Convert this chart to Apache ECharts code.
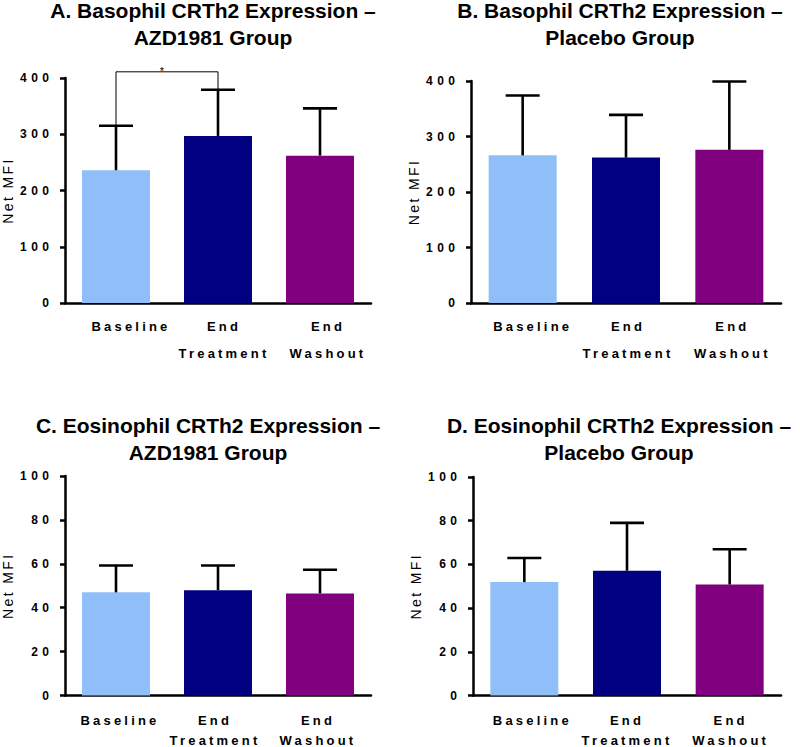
<!DOCTYPE html>
<html><head><meta charset="utf-8">
<script src="https://cdn.jsdelivr.net/npm/echarts@6/dist/echarts.min.js"></script>
<style>
html,body{margin:0;padding:0;background:#fff}
#c{width:800px;height:747px}
#c text[style*="13px"]{letter-spacing:3.2px}
#c text[style*="12px"]{letter-spacing:4.5px}
#c text[style*="14px"]{letter-spacing:2.4px}
</style></head><body><div id="c"></div><script>
// ---- data ----
const categories = ['Baseline', 'End\nTreatment', 'End\nWashout'];
const titles = [
  'A. Basophil CRTh2 Expression –\nAZD1981 Group',
  'B. Basophil CRTh2 Expression –\nPlacebo Group',
  'C. Eosinophil CRTh2 Expression –\nAZD1981 Group',
  'D. Eosinophil CRTh2 Expression –\nPlacebo Group'
];
const yAxisName = 'Net MFI';
const basoAzdMean = [236, 297, 262];
const basoAzdSD   = [79, 82, 84];
const basoPlbMean = [266, 262, 276];
const basoPlbSD   = [108, 77, 123];
const eosAzdMean  = [47, 48, 46.5];
const eosAzdSD    = [12.2, 11.2, 10.8];
const eosPlbMean  = [51.9, 57.1, 50.8];
const eosPlbSD    = [11, 21.9, 16.1];
const basoAxisMax = 400, basoAxisStep = 100;
const eosAxisMax = 100, eosAxisStep = 20;
// significance bracket (panel A): Baseline vs End Treatment, bracket level, marker
const sigPair = [0, 1];
const sigLevel = [411];
const sigMark = '*';

// ---- style ----
const FONT = '"Liberation Sans", Arial, Helvetica, sans-serif';
const barColors = ['#8FBEF8', '#000080', '#800080'];
const grids = [
  {left: 62, top: 78, width: 309, height: 225},
  {left: 471, top: 81, width: 310, height: 222},
  {left: 62, top: 476, width: 309, height: 222},
  {left: 473, top: 477, width: 308, height: 221}
];
const titlePos = [[213, -3], [620, -3], [208, 412], [619, 412]];
const labelShift = [[15, 6, 8], [10, 2, 3], [4, -3, -2], [8, 0, 1]];
const labelLH = [27, 27, 20, 20];
const labelMargin = [10, 10, 15, 15];

const panels = [
  {mean: basoAzdMean, sd: basoAzdSD, max: basoAxisMax, step: basoAxisStep},
  {mean: basoPlbMean, sd: basoPlbSD, max: basoAxisMax, step: basoAxisStep},
  {mean: eosAzdMean, sd: eosAzdSD, max: eosAxisMax, step: eosAxisStep},
  {mean: eosPlbMean, sd: eosPlbSD, max: eosAxisMax, step: eosAxisStep}
];

const axisLineStyle = {color: '#000', width: 2.5};
const option = {
  backgroundColor: '#fff',
  animation: false,
  title: titles.map((t, i) => ({
    text: t, left: titlePos[i][0], top: titlePos[i][1], textAlign: 'center', padding: 0,
    textStyle: {fontFamily: FONT, fontSize: 21, fontWeight: 'bold', color: '#000', lineHeight: 27}
  })),
  grid: grids.map(g => Object.assign({containLabel: false}, g)),
  xAxis: panels.map((p, i) => {
    const rich = {};
    labelShift[i].forEach((s, k) => {
      const d = Math.round(2 * s);
      rich['c' + k] = {
        fontFamily: FONT, fontSize: 13, fontWeight: 'bold', color: '#000', lineHeight: labelLH[i],
        padding: d >= 0 ? [0, 0, 0, d] : [0, -d, 0, 0]
      };
    });
    return {
      type: 'category', gridIndex: i, data: categories,
      axisLine: {lineStyle: axisLineStyle},
      axisTick: {alignWithLabel: true, length: 5, lineStyle: axisLineStyle},
      axisLabel: {
        interval: 0, margin: labelMargin[i], color: '#000',
        formatter: (v, k) => v.split('\n').map(l => '{c' + k + '|' + l + '}').join('\n'),
        rich: rich
      },
      splitLine: {show: false}
    };
  }),
  yAxis: panels.map((p, i) => ({
    type: 'value', gridIndex: i, min: 0, max: p.max, interval: p.step,
    name: yAxisName, nameLocation: 'middle', nameGap: 50,
    nameTextStyle: {fontFamily: FONT, fontSize: 14, color: '#000'},
    axisLine: {show: true, lineStyle: axisLineStyle},
    axisTick: {show: true, length: 5, lineStyle: axisLineStyle},
    axisLabel: {margin: 11.5, fontFamily: FONT, fontSize: 12, fontWeight: 'bold', color: '#000'},
    splitLine: {show: false}
  })),
  series: []
};

panels.forEach((p, i) => {
  option.series.push({
    type: 'bar', xAxisIndex: i, yAxisIndex: i, barWidth: 68, z: 2,
    data: p.mean.map((v, k) => ({value: v, itemStyle: {color: barColors[k]}}))
  });
  option.series.push({
    type: 'custom', xAxisIndex: i, yAxisIndex: i, clip: false, z: 3, silent: true,
    data: p.mean.map((v, k) => [k, v, v + p.sd[k]]),
    renderItem: function (params, api) {
      const b = api.coord([api.value(0), api.value(1)]);
      const t = api.coord([api.value(0), api.value(2)]);
      const st = {stroke: '#000', lineWidth: 2.6};
      return {type: 'group', children: [
        {type: 'line', shape: {x1: b[0], y1: b[1], x2: t[0], y2: t[1]}, style: st},
        {type: 'line', shape: {x1: t[0] - 17, y1: t[1], x2: t[0] + 17, y2: t[1]}, style: st}
      ]};
    }
  });
});

// significance bracket on panel A
option.series.push({
  type: 'custom', xAxisIndex: 0, yAxisIndex: 0, clip: false, z: 4, silent: true,
  data: [[sigPair[0], sigPair[1], basoAzdMean[sigPair[0]] + basoAzdSD[sigPair[0]],
          basoAzdMean[sigPair[1]] + basoAzdSD[sigPair[1]], sigLevel[0]]],
  renderItem: function (params, api) {
    const p1 = api.coord([api.value(0), api.value(2)]);
    const p2 = api.coord([api.value(0), api.value(4)]);
    const p3 = api.coord([api.value(1), api.value(4)]);
    const p4 = api.coord([api.value(1), api.value(3)]);
    return {type: 'group', children: [
      {type: 'polyline', shape: {points: [p1, p2, p3, p4]}, style: {stroke: '#000', lineWidth: 1, fill: null}},
      {type: 'text', style: {text: sigMark, x: (p2[0] + p3[0]) / 2 - 5, y: p2[1] - 1,
        align: 'center', verticalAlign: 'middle', fontFamily: FONT, fontSize: 11, fill: '#000'}}
    ]};
  }
});

const chart = echarts.init(document.getElementById('c'), null, {renderer: 'svg', width: 800, height: 747});
chart.setOption(option);
</script></body></html>
